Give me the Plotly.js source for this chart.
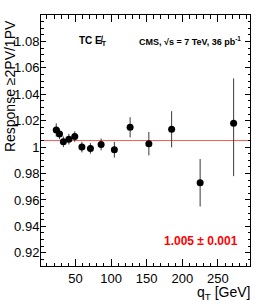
<!DOCTYPE html>
<html>
<head>
<meta charset="utf-8">
<script src="https://cdn.plot.ly/plotly-3.0.1.min.js"></script>
<style>html,body{margin:0;padding:0;background:#fff;}#chart{width:258px;height:306px;}</style>
</head>
<body>
<div id="chart"></div>
<script>
// Data
const qT = [23, 27.6, 33, 40.7, 49, 59, 71, 86, 104.6, 126.7, 153, 185, 225, 272];
const response = [1.013, 1.010, 1.004, 1.006, 1.008, 1.000, 0.999, 1.002, 0.998, 1.015, 1.0026, 1.0135, 0.973, 1.018];
const errPlus = [0.005, 0.004, 0.004, 0.004, 0.004, 0.004, 0.004, 0.0045, 0.006, 0.0076, 0.0089, 0.0137, 0.018, 0.034];
const errMinus = [0.005, 0.004, 0.004, 0.004, 0.004, 0.004, 0.004, 0.0045, 0.006, 0.0076, 0.0089, 0.0137, 0.018, 0.040];
const fitValue = 1.005;
const fitRange = [1.6, 295];
const fitLabel = "1.005 ± 0.001";

const FONT = "Liberation Sans, Arial, Helvetica, sans-serif";

const traces = [
  {
    x: fitRange, y: [fitValue, fitValue], mode: 'lines', type: 'scatter',
    line: {color: '#ff5c5c', width: 1}, hoverinfo: 'skip', showlegend: false
  },
  {
    x: qT, y: response, mode: 'markers', type: 'scatter',
    marker: {color: '#000', size: 7},
    error_y: {type: 'data', symmetric: false, array: errPlus, arrayminus: errMinus, color: '#3a3a3a', thickness: 1, width: 0},
    showlegend: false
  }
];

const layout = {
  width: 258, height: 306,
  margin: {l: 41, r: 8, t: 15, b: 40},
  paper_bgcolor: '#fff', plot_bgcolor: '#fff',
  font: {family: FONT, color: '#000', size: 13},
  showlegend: false,
  xaxis: {
    range: fitRange, showgrid: false, zeroline: false,
    showline: true, linecolor: '#000', linewidth: 1, mirror: 'allticks',
    ticks: 'inside', ticklen: 7, tickcolor: '#000', tickwidth: 1,
    tickvals: [50, 100, 150, 200, 250],
    tickfont: {size: 13, family: FONT},
    minor: {ticks: 'inside', dtick: 10, tick0: 0, ticklen: 3.5, tickcolor: '#000', showgrid: false}
  },
  yaxis: {
    range: [0.91, 1.1], showgrid: false, zeroline: false,
    showline: true, linecolor: '#000', linewidth: 1, mirror: 'allticks',
    ticks: 'inside', ticklen: 5, tickcolor: '#000', tickwidth: 1,
    ticklabelstandoff: -2,
    tickvals: [0.92, 0.94, 0.96, 0.98, 1.0, 1.02, 1.04, 1.06, 1.08],
    ticktext: ['0.92', '0.94', '0.96', '0.98', '1', '1.02', '1.04', '1.06', '1.08'],
    tickfont: {size: 13, family: FONT},
    minor: {ticks: 'inside', dtick: 0.005, tick0: 0, ticklen: 2.5, tickcolor: '#000', showgrid: false}
  },
  annotations: [
    {text: 'Response ≥2PV/1PV', xref: 'paper', yref: 'paper', x: -0.148, y: 0.717,
     xanchor: 'center', yanchor: 'middle', textangle: -90, showarrow: false,
     font: {size: 14, family: FONT}},
    {text: 'q<sub>T</sub> [GeV]', xref: 'paper', yref: 'paper', x: 1.01, y: -0.106,
     xanchor: 'right', yanchor: 'middle', showarrow: false, font: {size: 14, family: FONT}},
    {text: '<b>TC E\u0338<sub>T</sub></b>', xref: 'paper', yref: 'paper', x: 0.172, y: 0.896,
     xanchor: 'left', yanchor: 'middle', showarrow: false, font: {size: 10, family: FONT}},
    {text: '<b>CMS, √s = 7 TeV, 36 pb<sup>-1</sup></b>', xref: 'paper', yref: 'paper', x: 0.967, y: 0.896,
     xanchor: 'right', yanchor: 'middle', showarrow: false, font: {size: 9, family: FONT}},
    {text: '<b>' + fitLabel + '</b>', xref: 'paper', yref: 'paper', x: 0.952, y: 0.0996,
     xanchor: 'right', yanchor: 'middle', showarrow: false, font: {size: 12, family: FONT, color: '#ff0000'}}
  ]
};

Plotly.newPlot('chart', traces, layout, {staticPlot: true, displayModeBar: false});
</script>
</body>
</html>
